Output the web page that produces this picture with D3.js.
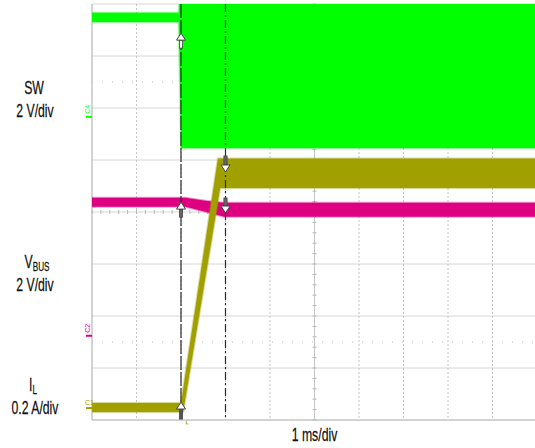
<!DOCTYPE html>
<html>
<head>
<meta charset="utf-8">
<script src="https://cdn.jsdelivr.net/npm/d3@7"></script>
<style>
  body { margin: 0; background: #fff; }
  svg { display: block; }
  text { font-family: "Liberation Sans", Arial, sans-serif; fill: #111; }
</style>
</head>
<body>
<svg id="chart" width="535" height="448"></svg>
<script>
// Scope capture: time in ms relative to the trigger, 1 ms/div, 8 vertical divisions
const timeTicks = [-2, -1, 0, 1, 2, 3, 4, 5, 6, 7, 8];
const divTicks = [-4, -3, -2, -1, 0, 1, 2, 3, 4];
const refLevels = [2.5, -2.5];           // dotted 0% / 100% markers (div)
const cursorTimes = [0, 1];              // ms

// Channel setup: units per div and ground position (div from centre)
const chanNames = ['SW', 'VBUS', 'IL'];
const chanIds = ['C4', 'C2', 'C1'];
const chanPerDiv = [2, 2, 0.2];
const chanGround = [1.83, -2.38, -3.77];
const chanScaleText = ['2 V/div', '2 V/div', '0.2 A/div'];

// SW node (V): upper / lower envelope of the trace
const swTopT = [-2, -0.05, 0, 8];
const swTop = [4.0, 4.0, 6.5, 6.5];
const swBotT = [-2, -0.05, 0, 8];
const swBot = [3.65, 3.65, -1.2, -1.2];

// VBUS (V)
const vbusTopT = [-2, 0.1, 0.55, 0.97, 8];
const vbusTop = [5.31, 5.31, 5.19, 5.12, 5.12];
const vbusBotT = [-2, 0.1, 0.55, 0.97, 8];
const vbusBot = [4.96, 4.96, 4.77, 4.58, 4.58];

// Inductor current (A)
const ilTopT = [-2, 0, 0.83, 8];
const ilTop = [0.019, 0.019, 0.96, 0.96];
const ilBotT = [-2, 0.05, 0.88, 8];
const ilBot = [-0.015, -0.015, 0.846, 0.846];

// Cursor arrow markers: time, channel index, level, direction
const markT = [0, 0, 0, 1, 1];
const markCh = [0, 1, 2, 2, 1];
const markV = [3.22, 5.14, 0.023, 0.908, 4.72];
const markDir = ['up', 'up', 'up', 'down', 'down'];

const colors = ['#00ff00', '#dd0080', '#a0a000'];

const svg = d3.select('#chart');
const L = 92, R = 537, T = 4, B = 420;

const x = d3.scaleLinear().domain([-2, 8]).range([L, R]);
const div = d3.scaleLinear().domain([-4, 4]).range([B, T]);
const chanY = chanPerDiv.map((pd, i) =>
  d3.scaleLinear().domain([(-4 - chanGround[i]) * pd, (4 - chanGround[i]) * pd]).range([B, T]));

svg.append('rect').attr('width', 535).attr('height', 448).attr('fill', '#fff');

svg.append('defs').append('clipPath').attr('id', 'plot')
  .append('rect').attr('x', L).attr('y', T).attr('width', R - L).attr('height', B - T);

// grid
const grid = svg.append('g');
grid.selectAll('.hg').data(divTicks).enter().append('line')
  .attr('x1', L).attr('x2', R).attr('y1', d => div(d)).attr('y2', d => div(d))
  .attr('stroke', d => d === -4 ? '#a8a8a8' : '#d6d6d6').attr('stroke-width', 1);
grid.selectAll('.vg').data(timeTicks).enter().append('line')
  .attr('y1', T).attr('y2', B).attr('x1', d => x(d)).attr('x2', d => x(d))
  .attr('stroke', d => d === -2 ? '#a8a8a8' : '#c4c4c4')
  .attr('stroke-dasharray', d => (d === -2 || d === 3) ? null : '2,2');
grid.selectAll('.rl').data(refLevels).enter().append('line')
  .attr('x1', L).attr('x2', R).attr('y1', d => div(d)).attr('y2', d => div(d))
  .attr('stroke', '#bdbdbd').attr('stroke-dasharray', '1,9');
// minor ticks on the centre lines
grid.selectAll('.mx').data(x.ticks(50)).enter().append('line')
  .attr('x1', d => x(d)).attr('x2', d => x(d)).attr('y1', div(0) - 2).attr('y2', div(0) + 2)
  .attr('stroke', '#b8b8b8');
grid.selectAll('.my').data(div.ticks(40)).enter().append('line')
  .attr('y1', d => div(d)).attr('y2', d => div(d)).attr('x1', x(3) - 2).attr('x2', x(3) + 2)
  .attr('stroke', '#b8b8b8');

// traces as closed envelopes
const traces = svg.append('g').attr('clip-path', 'url(#plot)');
function band(topT, top, botT, bot, ci) {
  const pts = topT.map((t, i) => [t, top[i]])
    .concat(botT.map((t, i) => [t, bot[i]]).reverse());
  const line = d3.line().x(d => x(d[0])).y(d => chanY[ci](d[1]));
  traces.append('path').attr('d', line(pts) + 'Z')
    .attr('fill', colors[ci]).attr('stroke', colors[ci])
    .attr('stroke-opacity', 0.4).attr('stroke-width', 2).attr('stroke-linejoin', 'round');
}
band(swTopT, swTop, swBotT, swBot, 0);
band(vbusTopT, vbusTop, vbusBotT, vbusBot, 1);
band(ilTopT, ilTop, ilBotT, ilBot, 2);

// cursors
svg.selectAll('.cur').data(cursorTimes).enter().append('line')
  .attr('x1', d => x(d)).attr('x2', d => x(d)).attr('y1', T).attr('y2', B)
  .attr('stroke', '#2a2a2a').attr('stroke-width', 1.2)
  .attr('stroke-dasharray', (d, i) => i === 0 ? '14,2' : '8,3,2,3');

// cursor arrows
const shaftLen = [8, 8, 10, 9, 8];
const shaftFill = ['#fff', '#666', '#555', '#666', '#666'];
markT.forEach((t, i) => {
  const g = svg.append('g')
    .attr('transform', `translate(${x(t)},${chanY[markCh[i]](markV[i])})` + (markDir[i] === 'down' ? ' rotate(180)' : ''));
  g.append('rect').attr('x', -1.6).attr('y', 7).attr('width', 3.2).attr('height', shaftLen[i])
    .attr('fill', shaftFill[i]).attr('stroke', '#444').attr('stroke-width', 0.8);
  g.append('path').attr('d', 'M0,0 L4.5,7 L-4.5,7 Z')
    .attr('fill', '#fff').attr('stroke', '#444').attr('stroke-width', 1);
});

// channel ground markers on the left edge
chanIds.forEach((id, i) => {
  const y0 = chanY[i](0);
  svg.append('line').attr('x1', L - 6).attr('x2', L).attr('y1', y0).attr('y2', y0)
    .attr('stroke', colors[i]).attr('stroke-width', 2);
  const t = svg.append('text').text(id)
    .style('font-size', '7px').style('fill', colors[i]);
  if (i < 2) {
    t.attr('transform', `translate(${L - 2},${y0 - 3}) rotate(-90)`);
  } else {
    t.attr('x', L - 7).attr('y', y0 - 3);
  }
});

// trigger mark under the axis
svg.append('path').attr('d', `M${x(0.12)},${B + 1} v3 h2`)
  .attr('fill', 'none').attr('stroke', '#a0a000').attr('stroke-width', 0.8);

// text labels (condensed sans)
function label(cx, cy, main, sub) {
  const g = svg.append('g').attr('transform', `translate(${cx},${cy}) scale(0.68,1)`);
  const t = g.append('text').attr('text-anchor', 'middle').style('font-size', '18px')
    .attr('stroke', '#111').attr('stroke-width', 0.25);
  t.append('tspan').text(main);
  if (sub) t.append('tspan').text(sub).style('font-size', '12px').attr('dy', 3);
}
const nameMain = ['SW', 'V', 'I'];
const nameSub = ['', 'BUS', 'L'];
const nameY = [94, 268, 391];
const nameX = [34, 37, 33];
chanNames.forEach((n, i) => {
  label(nameX[i], nameY[i], nameMain[i], nameSub[i]);
  label(35, nameY[i] + 23, chanScaleText[i]);
});
label(x(3), 441, '1 ms/div');
</script>
</body>
</html>
